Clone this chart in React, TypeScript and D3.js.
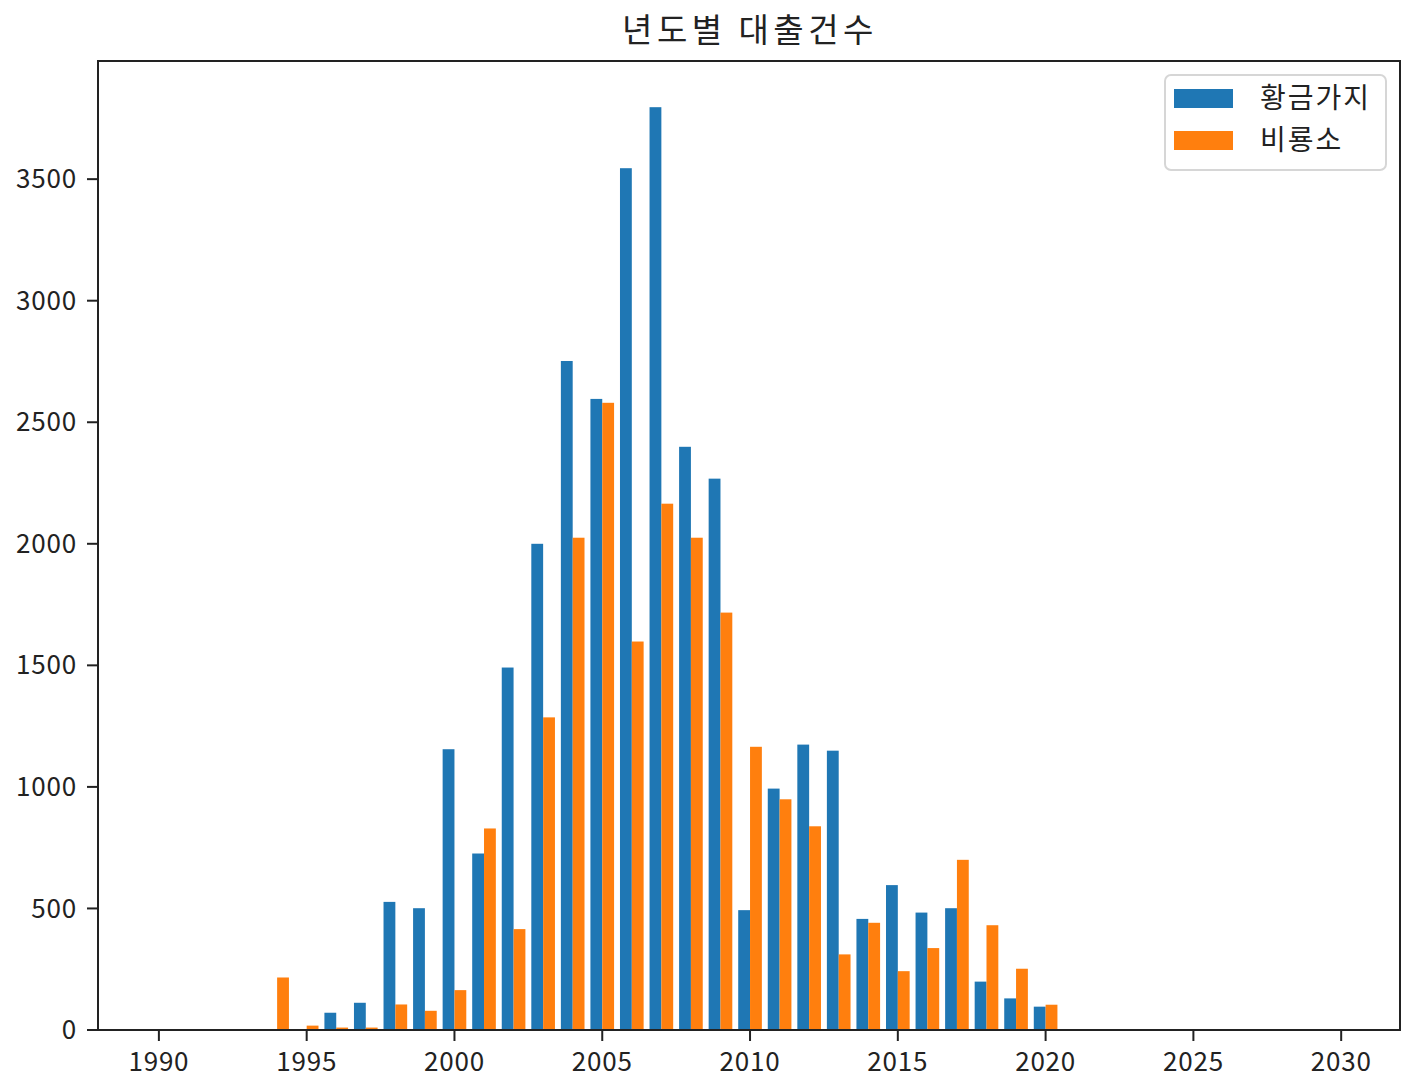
import React from 'react';
import * as d3 from 'd3';

// 년도별 대출건수 data
const years = [1994, 1995, 1996, 1997, 1998, 1999, 2000, 2001, 2002, 2003, 2004, 2005, 2006, 2007,
  2008, 2009, 2010, 2011, 2012, 2013, 2014, 2015, 2016, 2017, 2018, 2019, 2020];
const goldenBough = [0, 0, 71, 112, 527, 501, 1155, 726, 1491, 2000, 2752, 2596, 3545, 3796,
  2399, 2268, 493, 993, 1174, 1149, 457, 596, 483, 501, 199, 130, 96];
const bir = [216, 18, 10, 10, 105, 79, 164, 829, 415, 1286, 2025, 2580, 1598, 2165,
  2025, 1717, 1165, 949, 838, 311, 441, 242, 337, 700, 431, 252, 104];
const seriesNames = ['황금가지', '비룡소'];
const colors = ['#1f77b4', '#ff7f0e'];
const xTicks = [1990, 1995, 2000, 2005, 2010, 2015, 2020, 2025, 2030];
const yTicks = [0, 500, 1000, 1500, 2000, 2500, 3000, 3500];

const W = 1413;
const H = 1090;
const margin = { top: 61, right: 13, bottom: 60, left: 98 };
const FONT = '"Noto Sans CJK KR", "Noto Sans", sans-serif';
const barW = 0.4;

export default function App() {
  const x = d3.scaleLinear().domain([1987.94, 2031.99]).range([margin.left, W - margin.right]);
  const y = d3.scaleLinear().domain([0, 3986]).range([H - margin.bottom, margin.top]);
  const y0 = y(0);

  return (
    <svg width={W} height={H} style={{ position: 'absolute', left: 0, top: 0, background: '#fff' }}>
      <rect x={0} y={0} width={W} height={H} fill="#fff" />
      <text x={750} y={42} textAnchor="middle" fontFamily={FONT} fontSize={33} letterSpacing={4.5} fill="#222">
        년도별 대출건수
      </text>

      {/* bars: 황금가지 left of the year, 비룡소 right of it */}
      {years.map((yr, i) => (
        <g key={yr}>
          <rect x={x(yr - barW)} width={x(yr) - x(yr - barW)} y={y(goldenBough[i])}
            height={y0 - y(goldenBough[i])} fill={colors[0]} />
          <rect x={x(yr)} width={x(yr + barW) - x(yr)} y={y(bir[i])}
            height={y0 - y(bir[i])} fill={colors[1]} />
        </g>
      ))}

      {/* frame */}
      <rect x={margin.left} y={margin.top} width={W - margin.right - margin.left}
        height={H - margin.bottom - margin.top} fill="none" stroke="#222" strokeWidth={2} />

      {xTicks.map(t => (
        <g key={t} transform={`translate(${x(t)},${y0})`}>
          <line y1={0} y2={11} stroke="#222" strokeWidth={2} />
          <text y={41} textAnchor="middle" fontFamily={FONT} fontSize={26} letterSpacing={0.8} fill="#222">{t}</text>
        </g>
      ))}
      {yTicks.map(t => (
        <g key={t} transform={`translate(${margin.left},${y(t)})`}>
          <line x1={0} x2={-11} stroke="#222" strokeWidth={2} />
          <text x={-21} dy="0.35em" textAnchor="end" fontFamily={FONT} fontSize={26} letterSpacing={0.8} fill="#222">{t}</text>
        </g>
      ))}

      {/* legend */}
      <rect x={1165} y={75} width={221} height={95} rx={6} fill="#fff" fillOpacity={0.8}
        stroke="#d6d6d6" strokeWidth={2} />
      {seriesNames.map((name, i) => (
        <g key={name} transform={`translate(1174,${89 + i * 42})`}>
          <rect width={59} height={19} fill={colors[i]} />
          <text x={86} y={9.5} dy="0.35em" fontFamily={FONT} fontSize={28} letterSpacing={2} fill="#222">{name}</text>
        </g>
      ))}
    </svg>
  );
}
